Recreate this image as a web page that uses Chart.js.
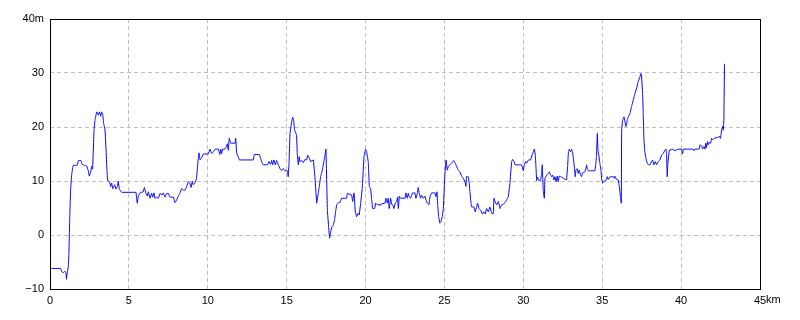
<!DOCTYPE html>
<html>
<head>
<meta charset="utf-8">
<script src="https://cdn.jsdelivr.net/npm/chart.js@4/dist/chart.umd.min.js"></script>
<style>
  html, body { margin: 0; padding: 0; background: #ffffff; }
  #wrap { width: 800px; height: 320px; }
</style>
</head>
<body>
<div id="wrap"><canvas id="c" width="800" height="320"></canvas></div>
<script>
// Distance along route (km)
const distKm = [
  0.06,0.68,0.74,0.85,0.93,1.01,1.04,1.10,1.16,1.20,1.25,1.31,1.37,1.44,1.48,1.73,1.80,1.96,2.03,2.17,
  2.32,2.43,2.49,2.58,2.64,2.70,2.79,2.85,2.96,3.06,3.13,3.21,3.27,3.34,3.40,3.49,3.55,3.61,3.65,3.78,
  3.84,3.91,3.97,4.10,4.18,4.27,4.33,4.39,4.54,5.45,5.53,5.60,5.70,5.91,5.98,6.08,6.17,6.23,6.34,6.44,
  6.51,6.59,6.65,6.76,6.87,6.97,7.10,7.18,7.29,7.39,7.50,7.60,7.82,7.92,8.03,8.13,8.24,8.34,8.45,8.56,
  8.66,8.77,8.87,8.94,9.02,9.08,9.19,9.29,9.36,9.44,9.51,9.59,9.72,10.03,10.14,10.25,10.35,10.46,10.67,10.77,
  10.82,10.88,10.94,11.09,11.15,11.24,11.30,11.36,11.45,11.73,11.77,11.83,11.93,12.00,12.88,12.95,13.27,13.35,13.44,13.52,
  13.79,13.88,13.98,14.05,14.11,14.19,14.28,14.36,14.47,14.58,14.68,14.79,14.89,15.04,15.10,15.15,15.21,15.32,15.38,15.44,
  15.50,15.63,15.67,15.74,15.80,15.84,15.95,16.05,16.16,16.27,16.33,16.44,16.52,16.69,16.79,16.90,17.00,17.07,17.15,17.26,
  17.36,17.43,17.49,17.58,17.66,17.72,17.79,17.87,17.96,18.04,18.10,18.17,18.27,18.38,18.48,18.80,18.84,19.12,19.18,19.27,
  19.35,19.43,19.54,19.60,19.69,19.79,19.90,20.00,20.07,20.17,20.24,20.32,20.39,20.45,20.58,20.64,20.74,20.85,20.91,
  20.95,21.23,21.29,21.38,21.44,21.50,21.59,21.65,21.72,21.80,21.88,21.97,22.03,22.08,22.14,22.22,22.50,22.56,22.64,22.71,
  22.77,22.85,22.98,23.13,23.19,23.28,23.34,23.40,23.49,23.55,23.66,23.76,23.83,23.91,24.02,24.08,24.19,24.40,24.46,24.53,
  24.57,24.63,24.71,24.78,24.86,24.93,25.03,25.10,25.18,25.24,25.35,25.45,25.60,25.66,25.77,25.88,25.98,26.09,26.19,26.30,
  26.36,26.40,26.51,26.57,26.66,26.72,26.87,26.95,27.04,27.10,27.19,27.29,27.40,27.50,27.59,27.67,27.78,27.88,27.99,28.09,
  28.14,28.20,28.31,28.42,28.52,28.63,28.73,28.84,28.94,29.05,29.15,29.26,29.32,29.41,29.47,29.89,30.00,30.06,30.15,30.21,
  30.32,30.46,30.55,30.63,30.69,30.76,30.80,30.84,30.91,30.97,
  31.09,31.16,31.20,31.26,31.33,31.37,31.48,31.58,31.64,31.73,31.79,31.86,31.94,32.00,32.07,32.15,32.21,32.28,32.43,32.64,
  32.74,32.81,32.85,32.91,33.00,33.06,33.12,33.16,33.23,33.29,33.33,33.42,33.48,33.54,33.63,33.69,33.75,33.90,33.97,34.01,
  34.05,34.12,34.54,34.60,34.64,34.69,34.73,34.77,34.85,34.92,34.96,35.02,35.11,35.24,35.32,35.38,35.49,35.70,35.76,35.80,
  35.91,36.02,36.08,36.16,36.21,36.23,36.29,36.38,36.44,36.50,36.54,36.59,36.65,36.76,36.86,36.97,37.07,37.18,37.28,37.39,
  37.45,37.49,37.56,37.60,37.64,37.70,37.77,37.85,37.92,38.03,38.13,38.19,38.28,38.36,38.45,38.55,38.66,38.76,38.87,38.97,
  39.04,39.08,39.12,39.16,39.25,
  39.50,39.56,39.82,40.03,40.09,40.14,40.77,40.83,40.88,41.15,41.19,41.30,41.36,41.45,41.51,41.57,41.61,41.68,41.72,41.78,
  41.87,41.93,41.99,42.08,42.35,42.42,42.50,42.57,42.63,42.67,42.71,42.75
];
// Elevation (m)
const elevM = [
  -6.2,-6.2,-6.8,-7.0,-6.7,-7.0,-8.2,-6.8,-5.9,-3.4,3.1,8.6,11.1,12.5,12.9,12.9,13.8,13.8,13.1,12.9,
  12.8,11.9,10.9,11.7,12.7,12.2,19.4,21.3,22.8,22.2,22.8,22.0,22.8,22.4,20.7,19.4,15.9,12.0,10.1,9.8,
  9.0,9.6,8.6,9.3,8.5,9.0,10.0,8.5,7.9,7.9,5.9,7.2,7.8,8.0,8.8,7.7,7.2,8.0,6.8,7.7,
  7.0,7.8,6.8,7.0,6.8,7.7,7.4,7.8,7.0,7.7,7.7,7.0,7.0,6.0,6.5,7.2,7.8,8.6,8.3,8.3,
  9.0,9.9,9.6,8.8,9.9,9.3,9.7,10.5,13.1,15.2,13.9,14.2,15.0,15.0,15.9,15.1,15.4,15.9,15.9,14.9,
  15.9,15.1,15.9,15.9,16.2,16.9,15.7,17.9,17.0,17.0,17.9,15.1,14.5,13.9,13.9,14.9,14.9,14.2,13.4,13.0,
  13.0,13.6,13.1,13.8,13.0,13.9,13.0,13.8,13.0,12.3,11.9,12.3,11.9,11.9,10.8,13.3,18.8,21.0,21.8,21.3,
  19.4,18.5,15.1,13.0,14.5,13.6,13.8,13.4,14.0,13.9,14.8,14.2,13.6,13.9,10.8,5.9,7.7,9.0,10.8,12.0,
  13.6,14.8,15.9,4.6,1.4,-0.6,0.6,1.5,1.9,2.8,4.3,5.6,6.0,6.0,6.8,6.8,7.7,7.4,6.2,7.8,
  4.3,3.4,4.0,3.7,5.9,8.6,14.5,15.9,15.4,13.6,9.0,8.6,6.5,4.9,4.9,5.9,5.6,5.7,5.4,
  5.7,5.9,6.8,5.9,6.8,4.9,6.8,5.7,5.6,4.9,5.9,6.2,7.0,4.9,7.2,6.8,6.8,7.8,6.8,7.7,
  7.1,6.8,7.8,7.8,6.8,7.7,8.8,7.7,6.8,7.4,6.8,7.2,6.5,5.9,5.6,7.1,7.8,7.8,7.1,8.0,
  5.6,3.4,2.2,2.5,3.4,4.9,11.4,13.9,12.0,12.7,13.0,13.3,13.8,13.4,12.7,12.0,11.7,10.9,10.5,9.9,
  9.0,10.8,10.8,9.6,6.5,5.2,5.2,4.3,5.2,5.9,4.9,4.6,3.9,4.3,3.9,4.9,4.3,5.2,4.0,3.9,
  6.8,6.2,5.6,6.2,4.9,5.6,5.7,6.0,6.5,7.1,9.6,13.6,14.0,13.6,13.0,13.0,11.9,13.0,13.6,13.3,
  13.9,13.9,14.8,15.4,15.9,14.8,12.7,10.1,10.7,10.1,
  10.1,11.4,13.0,8.3,6.8,10.5,11.1,11.4,11.7,11.1,10.8,11.1,10.2,10.8,9.9,10.9,9.9,10.9,10.7,10.3,
  10.2,12.8,15.1,15.9,15.4,15.9,15.4,14.5,12.7,10.8,12.0,12.3,11.4,12.0,11.1,10.8,11.5,11.7,12.3,13.0,
  12.3,11.9,11.9,13.3,14.8,18.8,15.7,15.1,13.3,12.0,10.5,9.6,9.9,10.2,10.8,10.3,10.8,10.8,10.5,10.9,
  10.3,10.2,9.0,7.1,5.9,19.4,21.3,21.9,21.0,20.1,20.4,21.3,21.9,22.5,23.8,25.0,26.2,27.2,28.4,29.3,
  29.9,29.6,26.2,22.5,17.9,15.4,14.2,13.3,13.0,13.0,13.6,13.9,13.0,13.6,13.0,13.6,13.9,14.8,15.1,15.7,
  15.9,15.1,10.8,13.3,15.7,
  15.9,15.6,15.9,15.9,15.0,15.9,15.9,15.6,15.9,15.9,16.7,16.5,15.9,16.4,15.9,17.0,16.2,17.3,16.7,17.1,
  17.0,17.9,17.6,17.9,18.1,18.3,17.9,19.6,20.1,19.4,21.2,31.7
];
// Axis ticks
const xTicks = [0, 5, 10, 15, 20, 25, 30, 35, 40, 45];
const yTicks = [-10, 0, 10, 20, 30, 40];
const xUnit = 'km';
const yUnit = 'm';

const points = distKm.map((d, i) => ({ x: d, y: elevM[i] }));
const FONT = '"Liberation Sans", Arial, sans-serif';

const frameAndUnits = {
  id: 'frameAndUnits',
  beforeDatasetsDraw(chart) {
    const { ctx, chartArea: a } = chart;
    ctx.save();
    ctx.strokeStyle = '#000000';
    ctx.lineWidth = 1;
    ctx.strokeRect(Math.round(a.left) + 0.5, Math.round(a.top) + 0.5,
                   Math.round(a.right) - Math.round(a.left), Math.round(a.bottom) - Math.round(a.top));
    ctx.restore();
  },
  afterDraw(chart) {
    const { ctx, chartArea: a } = chart;
    const xs = chart.scales.x;
    const last = xTicks[xTicks.length - 1];
    ctx.save();
    ctx.font = '11px ' + FONT;
    ctx.fillStyle = '#000000';
    ctx.textBaseline = 'top';
    ctx.textAlign = 'left';
    const w = ctx.measureText(String(last)).width;
    ctx.fillText(xUnit, xs.getPixelForValue(last) + w / 2, a.bottom + 5);
    ctx.restore();
  }
};

new Chart(document.getElementById('c'), {
  type: 'line',
  data: {
    datasets: [{
      data: points,
      borderColor: '#0000ff',
      borderWidth: 1,
      pointRadius: 0,
      tension: 0.000001,
      fill: false
    }]
  },
  options: {
    responsive: false,
    animation: false,
    events: [],
    layout: { padding: { left: 0, top: 19, right: 40, bottom: 0 } },
    plugins: { legend: { display: false }, tooltip: { enabled: false } },
    scales: {
      x: {
        type: 'linear',
        min: 0, max: 45,
        afterBuildTicks(s) { s.ticks = xTicks.map(v => ({ value: v })); },
        afterFit(s) { s.height = 31; },
        grid: { color: '#c0c0c0', lineWidth: 1, drawTicks: false },
        border: { display: false, dash: [4, 3] },
        ticks: {
          padding: 5,
          color: '#000000',
          font: { family: FONT, size: 11 },
          maxRotation: 0,
          autoSkip: false,
          callback: (v) => String(v)
        }
      },
      y: {
        min: -10, max: 40,
        afterBuildTicks(s) { s.ticks = yTicks.map(v => ({ value: v })); },
        afterFit(s) { s.width = 50; },
        grid: { color: '#c0c0c0', lineWidth: 1, drawTicks: false },
        border: { display: false, dash: [4, 3] },
        ticks: {
          padding: 6,
          color: '#000000',
          font: { family: FONT, size: 11 },
          autoSkip: false,
          callback: (v) => {
            if (v === yTicks[yTicks.length - 1]) return v + yUnit;
            if (v < 0) return '\u2212' + Math.abs(v);
            return String(v);
          }
        }
      }
    }
  },
  plugins: [frameAndUnits]
});
</script>
</body>
</html>
